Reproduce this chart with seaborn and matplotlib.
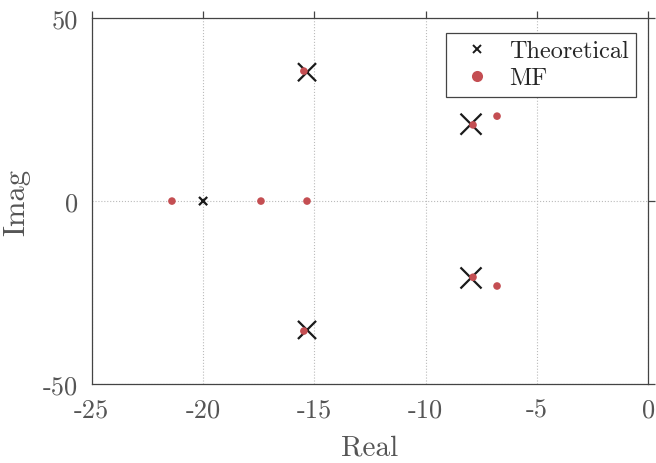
import matplotlib
matplotlib.use("Agg")
import matplotlib.pyplot as plt
import seaborn as sns
import pandas as pd
from matplotlib.lines import Line2D

# -----------------------------
# Data
# -----------------------------
theo_real = [-20.0, -15.33, -15.33, -7.96, -7.96]
theo_imag = [0.0, 35.2, -35.2, 21.0, -21.0]

mf_real = [-21.4, -17.4, -15.33, -15.47, -15.47, -7.87, -7.87, -6.79, -6.79]
mf_imag = [0.0, 0.0, 0.0, 35.5, -35.5, 20.8, -20.8, 23.2, -23.2]

x_ticks = [-25, -20, -15, -10, -5, 0]
y_ticks = [-50, 0, 50]

# marker areas for the theoretical poles (style only)
theo_sizes = [35, 170, 170, 230, 230]

sns.set_style("white")
plt.rcParams['font.family'] = ['serif']
plt.rcParams['font.serif'] = ['cmr10', 'DejaVu Serif']
plt.rcParams['axes.unicode_minus'] = False
plt.rcParams['axes.formatter.use_mathtext'] = False

theo = pd.DataFrame({'Real': theo_real, 'Imag': theo_imag})
mf = pd.DataFrame({'Real': mf_real, 'Imag': mf_imag})

fig = plt.figure(figsize=(6.56, 4.64), dpi=100)
ax = fig.add_axes([0.140, 0.170, 0.848, 0.789])

ax.grid(True, color='#bbbbbb', linestyle=':', linewidth=0.8)
ax.set_axisbelow(True)

sns.scatterplot(data=theo, x='Real', y='Imag', ax=ax, marker='x',
                s=theo_sizes, color='#1a1a1a', linewidth=1.6, zorder=3)
sns.scatterplot(data=mf, x='Real', y='Imag', ax=ax, marker='o',
                s=30, color='#C44E52', edgecolor='none', zorder=4)

ax.set_xlim(-25, 0)
ax.set_ylim(-50, 50)
ax.set_xticks(x_ticks)
ax.set_yticks(y_ticks)
ax.set_xticklabels([str(t) for t in x_ticks])
ax.set_yticklabels([str(t) for t in y_ticks])

for side in ['left', 'bottom', 'top', 'right']:
    ax.spines[side].set_visible(True)
    ax.spines[side].set_color('#444444')
    ax.spines[side].set_linewidth(0.9)

ax.tick_params(axis='both', which='major', direction='out', length=5,
               width=0.9, color='#444444', labelsize=19, labelcolor='#555555',
               top=True, right=True, labeltop=False, labelright=False, pad=5)

ax.set_xlabel('Real', fontsize=21, color='#555555', labelpad=9)
ax.set_ylabel('Imag', fontsize=22, color='#555555', labelpad=9)

handles = [
    Line2D([], [], linestyle='none', marker='x', markersize=6,
           markeredgewidth=1.4, color='#1a1a1a', label='Theoretical'),
    Line2D([], [], linestyle='none', marker='o', markersize=8,
           markeredgecolor='none', color='#C44E52', label='MF'),
]
leg = ax.legend(handles=handles, loc='upper right', fontsize=17.5,
                frameon=True, fancybox=False, framealpha=1,
                edgecolor='#444444', borderpad=0.3, handletextpad=0.3,
                labelspacing=0.2, borderaxespad=0,
                bbox_to_anchor=(0.978, 0.959))
leg.get_frame().set_linewidth(0.9)

plt.savefig("out.png", dpi=100)
